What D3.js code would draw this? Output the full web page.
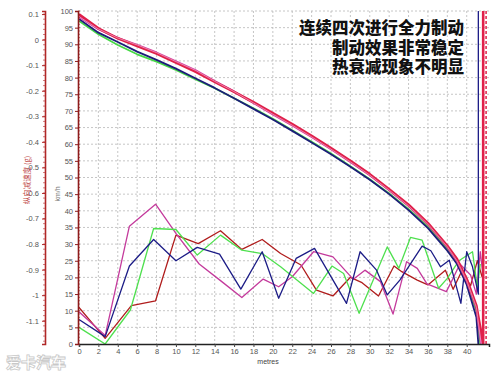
<!DOCTYPE html>
<html>
<head>
<meta charset="utf-8">
<script src="https://cdn.jsdelivr.net/npm/d3@7"></script>
<style>
  html, body { margin: 0; padding: 0; background: #fff; }
  svg { display: block; font-family: "Liberation Sans", Arial, sans-serif; }
  .tick text { fill: #555; font-size: 7.5px; }
  .grid line { stroke: #b8b8b8; stroke-dasharray: 2,2; stroke-width: 0.8; }
</style>
</head>
<body>
<svg id="chart" width="500" height="374"></svg>
<script>
// --- Data ---
// distance (m), speed (km/h)
const speedRed   = [[0,99],[2,94.8],[4,91.8],[6,89.5],[8,87.2],[10,84.5],[12,81.8],[14,78.7],[16,75.7],[18,72.6],[20,69.3],[22,66],[24,62.5],[26,58.8],[28,55],[30,51],[32,46.5],[34,41.8],[36,36.3],[38,29.5],[39,25.5],[40,19.5],[41,11.5],[41.7,0],[41.7,100]];
const speedPink  = [[0,98.3],[2,94.6],[4,91.9],[6,89.8],[8,87.5],[10,84.8],[12,82.2],[14,78.9],[16,75.8],[18,72.4],[20,69],[22,65.7],[24,62.2],[26,58.5],[28,54.7],[30,50.7],[32,46.2],[34,41.5],[36,36],[38,29.2],[39,25],[40,19],[41,11],[41.5,0]];
const speedBlue  = [[0,97.6],[2,93.5],[4,90.7],[6,87.8],[8,85.3],[10,82.7],[12,79.8],[14,76.9],[16,73.8],[18,70.6],[20,67.4],[22,64],[24,60.5],[26,57],[28,53.2],[30,49.3],[32,45],[34,40.2],[36,34.8],[38,28],[39,24],[40,17.8],[41,8],[41.2,0]];
const speedGreen = [[0,97],[2,93],[4,89.8],[6,87],[8,84.8],[10,82.3],[12,79.5],[14,76.8],[16,73.8],[18,70.8],[20,67.6],[22,64.2],[24,60.7],[26,57.2],[28,53.4],[30,49.5],[32,45.2],[34,40.5],[36,35.2],[38,28.5],[39,24.5],[40,18.5],[41,10],[41.4,0]];

// distance (m), longitudinal deceleration (g)
const decelRed   = [[0,-1.048],[2.7,-1.169],[5.4,-1.041],[7.9,-1.022],[10,-0.765],[12.3,-0.798],[14.6,-0.748],[16.8,-0.821],[18.9,-0.782],[20.8,-0.837],[22.9,-0.882],[24.5,-0.980],[26.2,-1.003],[28,-0.930],[29.2,-0.951],[30.9,-1.003],[32.5,-0.886],[33.3,-0.908],[34.9,-0.941],[36,-0.960],[37.8,-0.902],[38.6,-0.977],[39.5,-0.904],[40.4,-0.963],[41.1,-0.865],[41.6,-0.930]];
const decelPink  = [[0,-1.065],[2.7,-1.158],[5.2,-0.730],[7.9,-0.644],[10,-0.758],[12.4,-0.878],[14.6,-0.943],[16.8,-1.009],[19,-0.937],[20.6,-0.967],[22,-0.928],[24.2,-0.830],[26.2,-0.850],[28.3,-0.938],[29.5,-0.902],[31.1,-0.947],[32.4,-1.074],[33.8,-0.869],[34.9,-0.895],[35.9,-0.956],[37.9,-0.986],[38.5,-0.941],[39.3,-0.878],[40.4,-0.921],[41,-0.996],[41.4,-0.830],[41.7,-0.930]];
const decelBlue  = [[0,-1.095],[2.7,-1.162],[5.2,-0.886],[7.7,-0.782],[10,-0.865],[12.2,-0.813],[14.5,-0.839],[16.7,-0.976],[18.9,-0.830],[20.6,-1.012],[22.4,-0.856],[24.3,-0.817],[27.6,-1.032],[29,-0.830],[30.7,-0.902],[31.8,-0.999],[33.1,-0.941],[35.4,-0.808],[36.3,-0.826],[37.3,-0.889],[38.2,-0.863],[39.4,-1.032],[40,-0.830],[40.6,-0.889],[41.2,-0.996],[41.2,0.112]];
const decelGreen = [[0,-1.126],[2.7,-1.191],[5.3,-1.058],[7.7,-0.739],[10,-0.743],[12.2,-0.843],[14.6,-0.765],[16.8,-0.824],[18.9,-0.837],[20.8,-0.889],[24.2,-0.993],[26.1,-0.886],[27.3,-0.915],[28.9,-1.071],[31.8,-0.811],[33,-0.895],[34.2,-0.774],[35.4,-0.785],[37.1,-0.973],[38,-0.934],[39.2,-0.865],[40.6,-0.830],[41.1,-0.970],[41.4,-0.878]];

const xTicks = d3.range(0, 41, 2);
const kmhTicks = d3.range(0, 101, 5);
const gTicks = [0.1, 0, -0.1, -0.2, -0.3, -0.4, -0.5, -0.6, -0.7, -0.8, -0.9, -1, -1.1];
const captionLines = ["连续四次进行全力制动", "制动效果非常稳定", "热衰减现象不明显"];

// --- Layout ---
const svg = d3.select("#chart");
const plotLeft = 79, plotRight = 489, plotTop = 11, plotBottom = 344;

const x = d3.scaleLinear().domain([0, 42.3]).range([plotLeft, plotRight]);
const yKmh = d3.scaleLinear().domain([0, 100]).range([plotBottom, plotTop]);
const yG = d3.scaleLinear().domain([-1.191, 0.112]).range([plotBottom, plotTop]);

svg.append("defs").append("clipPath").attr("id", "plot-clip")
    .append("rect").attr("x", plotLeft).attr("y", plotTop - 2)
    .attr("width", plotRight - plotLeft).attr("height", plotBottom - plotTop + 2);

// gridlines
const grid = svg.append("g").attr("class", "grid");
grid.selectAll(".h").data(kmhTicks.filter(d => d > 0)).join("line")
    .attr("x1", plotLeft).attr("x2", plotRight)
    .attr("y1", d => yKmh(d)).attr("y2", d => yKmh(d));
grid.selectAll(".v").data(xTicks.filter(d => d > 0)).join("line")
    .attr("x1", d => x(d)).attr("x2", d => x(d))
    .attr("y1", plotTop).attr("y2", plotBottom);

// plot lines
const plot = svg.append("g").attr("clip-path", "url(#plot-clip)");
const lineKmh = d3.line().x(d => x(d[0])).y(d => yKmh(d[1]));
const lineG = d3.line().x(d => x(d[0])).y(d => yG(d[1]));

// cursor line at the end of the run
plot.append("line")
    .attr("x1", x(42)).attr("x2", x(42)).attr("y1", plotTop).attr("y2", plotBottom)
    .attr("stroke", "#e0204a").attr("stroke-width", 1.5).attr("stroke-dasharray", "3,2");

const decel = [
    { data: decelRed, color: "#b01c1c" },
    { data: decelPink, color: "#c43a9c" },
    { data: decelGreen, color: "#4ee04e" },
    { data: decelBlue, color: "#1c1c86" }
];
decel.forEach(s => {
    plot.append("path").datum(s.data)
        .attr("d", lineG).attr("fill", "none")
        .attr("stroke", s.color).attr("stroke-width", 1.3)
        .attr("stroke-linejoin", "round");
});

const speeds = [
    { data: speedGreen, color: "#46d846", w: 1.8 },
    { data: speedBlue, color: "#1c1c7a", w: 1.8 },
    { data: speedPink, color: "#d43aa0", w: 2.2 },
    { data: speedRed, color: "#e0204a", w: 2.6 }
];
speeds.forEach(s => {
    plot.append("path").datum(s.data)
        .attr("d", lineKmh).attr("fill", "none")
        .attr("stroke", s.color).attr("stroke-width", s.w)
        .attr("stroke-linejoin", "round");
});
// pale centre of the pink trace
plot.append("path").datum(speedPink)
    .attr("d", lineKmh).attr("fill", "none")
    .attr("stroke", "#f4c4e4").attr("stroke-width", 0.6);

// --- Axes ---
// x axis
const xAxis = svg.append("g").attr("transform", `translate(0,${plotBottom})`)
    .call(d3.axisBottom(x).tickValues(xTicks).tickSize(3).tickPadding(2));
xAxis.select(".domain").attr("stroke", "#222").attr("stroke-width", 1.5);
xAxis.selectAll(".tick line").attr("stroke", "#444");

svg.append("text").attr("x", 268).attr("y", 364)
    .attr("text-anchor", "middle").attr("font-size", 7).attr("fill", "#444")
    .text("metres");

// km/h axis
const kAxis = svg.append("g").attr("transform", `translate(${plotLeft - 1},0)`)
    .call(d3.axisLeft(yKmh).tickValues(kmhTicks).tickSize(3).tickPadding(2));
kAxis.select(".domain").attr("stroke", "#8e1c1c").attr("stroke-width", 1.6);
kAxis.selectAll(".tick line").attr("stroke", "#8e1c1c");
kAxis.append("g").selectAll("line").data(d3.range(0, 101, 1)).join("line")
    .attr("x1", 0).attr("x2", 2).attr("y1", d => yKmh(d)).attr("y2", d => yKmh(d))
    .attr("stroke", "#8e1c1c").attr("stroke-width", 0.6);

svg.append("text")
    .attr("transform", "translate(60,194) rotate(-90)")
    .attr("text-anchor", "middle").attr("font-size", 7).attr("fill", "#777")
    .text("km/h");

// g axis
const gAxis = svg.append("g").attr("transform", "translate(45,0)")
    .call(d3.axisLeft(yG).tickValues(gTicks).tickSize(3).tickPadding(3)
        .tickFormat(d => String(Math.round(d * 10) / 10)));
gAxis.select(".domain").attr("stroke", "#b02828").attr("stroke-width", 1.6);
gAxis.selectAll(".tick line").attr("stroke", "#b02828");
gAxis.append("g").selectAll("line").data(d3.range(-118, 12, 2).map(d => d / 100)).join("line")
    .attr("x1", 0).attr("x2", -2).attr("y1", d => yG(d)).attr("y2", d => yG(d))
    .attr("stroke", "#b02828").attr("stroke-width", 0.6);

svg.append("text")
    .attr("transform", "translate(30,180) rotate(-90)")
    .attr("text-anchor", "middle").attr("font-size", 7.5).attr("fill", "#c04848")
    .attr("font-family", "'Noto Sans CJK SC', sans-serif")
    .text("纵向减速度 (g)");

// --- Caption ---
svg.append("g").selectAll("text").data(captionLines).join("text")
    .attr("x", 464).attr("y", (d, i) => 34 + i * 19.5)
    .attr("text-anchor", "end")
    .attr("font-family", "'Noto Sans CJK SC', sans-serif")
    .attr("font-weight", 900).attr("font-size", 16.5)
    .attr("fill", "#111")
    .attr("stroke", "#fff").attr("stroke-width", 2).attr("paint-order", "stroke")
    .text(d => d);

// --- Watermark ---
svg.append("text").attr("x", 6).attr("y", 368)
    .attr("font-family", "'Noto Sans CJK SC', sans-serif")
    .attr("font-weight", 900).attr("font-size", 15)
    .attr("fill", "#fff").attr("stroke", "#c8c8c8").attr("stroke-width", 0.8)
    .text("爱卡汽车");
</script>
</body>
</html>
